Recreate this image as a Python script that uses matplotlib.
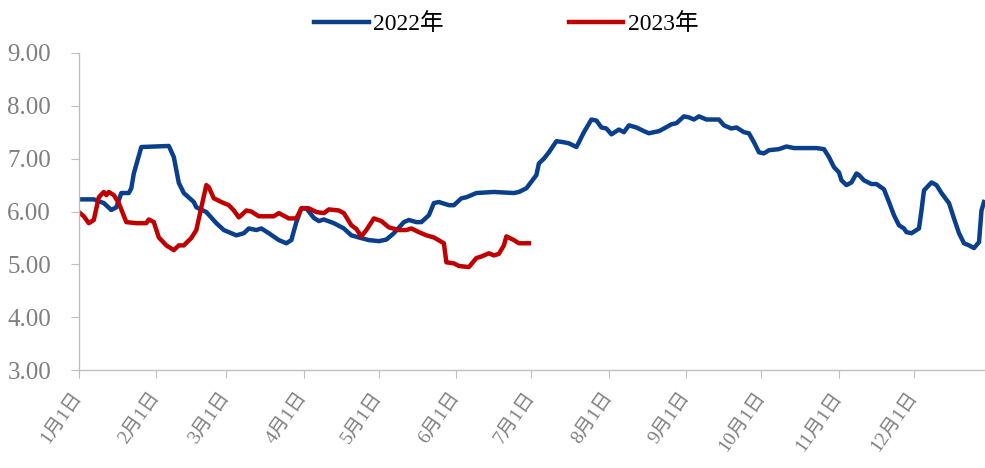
import matplotlib
matplotlib.use("Agg")
import matplotlib.pyplot as plt

# day of year (0 = Jan 1) and value
days_2022 = [0, 6, 10, 13, 15, 17, 20, 21, 22, 25, 36, 38, 40, 42, 46, 47, 51, 55, 58, 63,
             66, 68, 71, 73, 76, 80, 83, 85, 87, 89, 91, 94, 96, 98, 102, 106, 109, 112, 116, 120,
             123, 126, 130, 132, 135, 137, 140, 142, 144, 148, 150, 153, 155, 159, 166, 174, 176, 179, 182, 183,
             184, 186, 188, 191, 194, 196, 199, 200, 202, 205, 207, 209, 211, 213, 216, 218, 220, 223, 226, 228,
             232, 234, 237, 239, 242, 244, 246, 248, 251, 256, 258, 261, 263, 266, 268, 270, 272, 274, 276, 280,
             283, 286, 295, 298, 300, 302, 304, 305, 307, 309, 311, 312, 314, 317, 319, 322, 324, 326, 328, 330,
             331, 333, 336, 337, 338, 341, 343, 345, 348, 350, 352, 354, 356, 358, 360, 361, 362]
vals_2022 = [6.23, 6.23, 6.16, 6.03, 6.08, 6.35, 6.35, 6.44, 6.72, 7.22, 7.24, 7.03, 6.54, 6.35, 6.18, 6.08, 5.99, 5.78, 5.65, 5.55,
             5.59, 5.68, 5.65, 5.68, 5.59, 5.46, 5.40, 5.46, 5.80, 6.06, 6.06, 5.88, 5.82, 5.85, 5.78, 5.68, 5.55, 5.51, 5.46, 5.44,
             5.47, 5.59, 5.80, 5.84, 5.80, 5.80, 5.93, 6.16, 6.18, 6.12, 6.12, 6.25, 6.27, 6.35, 6.37, 6.35, 6.37, 6.44, 6.63, 6.69,
             6.91, 7.00, 7.12, 7.33, 7.31, 7.29, 7.22, 7.31, 7.50, 7.74, 7.72, 7.59, 7.57, 7.46, 7.55, 7.50, 7.63, 7.59, 7.52, 7.48,
             7.52, 7.57, 7.65, 7.67, 7.80, 7.78, 7.74, 7.80, 7.74, 7.74, 7.63, 7.57, 7.59, 7.50, 7.48, 7.31, 7.12, 7.10, 7.16, 7.18,
             7.23, 7.20, 7.20, 7.18, 7.03, 6.84, 6.74, 6.59, 6.50, 6.55, 6.72, 6.69, 6.59, 6.52, 6.52, 6.42, 6.18, 5.93, 5.74, 5.68,
             5.61, 5.59, 5.68, 6.02, 6.40, 6.55, 6.50, 6.35, 6.16, 5.87, 5.59, 5.40, 5.36, 5.31, 5.42, 6.02, 6.18]

days_2023 = [0, 2, 4, 6, 8, 10, 11, 12, 14, 16, 19, 23, 27, 28, 30, 32, 35, 38, 40, 42,
             45, 47, 49, 51, 52, 54, 57, 60, 62, 64, 65, 67, 69, 72, 78, 80, 84, 87, 89, 92,
             95, 98, 100, 104, 106, 109, 111, 113, 115, 118, 121, 124, 128, 131, 133, 136, 139, 142, 146, 147,
             150, 152, 156, 159, 161, 164, 166, 168, 170, 171, 174, 176, 180]
vals_2023 = [5.99, 5.91, 5.78, 5.84, 6.27, 6.37, 6.31, 6.37, 6.31, 6.16, 5.80, 5.78, 5.78, 5.85, 5.80, 5.51, 5.36, 5.27, 5.36, 5.36,
             5.50, 5.65, 6.08, 6.50, 6.46, 6.25, 6.18, 6.12, 6.02, 5.89, 5.93, 6.02, 6.00, 5.91, 5.91, 5.97, 5.87, 5.87, 6.06, 6.06,
             5.99, 5.97, 6.04, 6.02, 5.97, 5.74, 5.67, 5.53, 5.65, 5.87, 5.82, 5.70, 5.65, 5.65, 5.68, 5.61, 5.55, 5.51, 5.40, 5.04,
             5.02, 4.97, 4.95, 5.12, 5.15, 5.21, 5.17, 5.20, 5.36, 5.53, 5.46, 5.40, 5.40]

month_starts = [0, 31, 59, 90, 120, 151, 181, 212, 243, 273, 304, 334]
month_labels = [f"{m}月1日" for m in range(1, 13)]
yticks = [3, 4, 5, 6, 7, 8, 9]

font = ["Liberation Serif", "Noto Sans CJK SC"]
plt.rcParams["font.family"] = font

fig = plt.figure(figsize=(9.85, 4.68), dpi=100)
ax = fig.add_axes([0.080, 0.209, 0.920, 0.678])

ax.plot(days_2022, vals_2022, color="#0a3f8c", lw=3.2, label="2022年", solid_joinstyle="round")
ax.plot(days_2023, vals_2023, color="#c00000", lw=3.2, label="2023年", solid_joinstyle="round")

ax.set_xlim(0, 362.4)
ax.set_ylim(3, 9)
ax.set_yticks(yticks)
ax.set_yticklabels([f"{v:.2f}" for v in yticks])
ax.set_xticks(month_starts)
ax.set_xticklabels(month_labels, rotation=55, ha="right", va="center", rotation_mode="anchor")

for s in ["top", "right"]:
    ax.spines[s].set_visible(False)
for s in ["left", "bottom"]:
    ax.spines[s].set_color("#bfbfbf")
    ax.spines[s].set_linewidth(1.0)
ax.tick_params(axis="y", colors="#bfbfbf", labelcolor="#7f7f7f", labelsize=18, length=6, pad=14, direction="out")
ax.tick_params(axis="x", colors="#bfbfbf", labelcolor="#7f7f7f", labelsize=14, length=6, pad=11, direction="out")

ax.legend(loc="lower center", bbox_to_anchor=(0.472, 1.005), ncol=2, frameon=False,
          fontsize=17, handlelength=2.3, handletextpad=0.2, columnspacing=5.3, borderaxespad=0.3)

fig.savefig("out.png", dpi=100)
